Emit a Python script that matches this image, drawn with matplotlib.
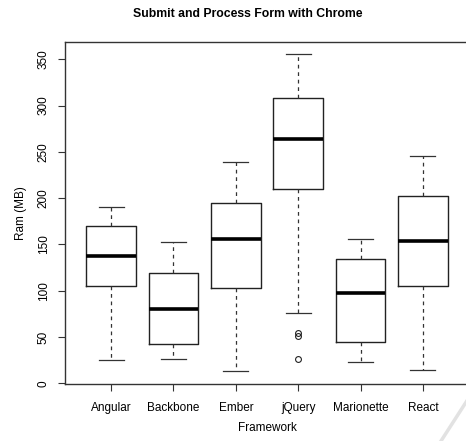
import matplotlib
matplotlib.use("Agg")
import matplotlib.pyplot as plt
from matplotlib.lines import Line2D

plt.rcParams.update({
    "font.family": ["Liberation Sans", "DejaVu Sans"],
    "font.size": 8.5,
})

# values (Ram in MB)
frameworks = ['Angular', 'Backbone', 'Ember', 'jQuery', 'Marionette', 'React']
whisker_low = [25.2, 25.9, 12.9, 75.5, 23.0, 14.4]
q1 = [105.4, 42.4, 102.5, 210.4, 44.2, 104.7]
median = [137.8, 80.6, 155.8, 263.7, 97.1, 153.6]
q3 = [169.8, 118.7, 194.6, 308.3, 133.8, 202.5]
whisker_high = [190.6, 152.9, 239.2, 355.4, 155.4, 245.3]
outliers = [[], [], [], [54.7, 51.1, 26.6], [], []]
yticks = [0, 50, 100, 150, 200, 250, 300, 350]

stats = []
for i, name in enumerate(frameworks):
    stats.append({'label': name, 'whislo': whisker_low[i], 'q1': q1[i], 'med': median[i],
                  'q3': q3[i], 'whishi': whisker_high[i], 'fliers': outliers[i]})

fig = plt.figure(figsize=(4.66, 4.41), dpi=100)
ax = fig.add_axes([65 / 466, 1 - 384 / 441, 404 / 466, (384 - 41.7) / 441])

ax.bxp(stats, positions=range(1, 7), widths=0.8, showfliers=True,
       boxprops=dict(color='#222222', linewidth=1.0),
       medianprops=dict(color='black', linewidth=2.6, solid_capstyle='butt'),
       whiskerprops=dict(color='#333333', linewidth=0.9, linestyle=(0, (3, 3))),
       capprops=dict(color='#333333', linewidth=0.9),
       capwidths=0.4,
       flierprops=dict(marker='o', markerfacecolor='none', markeredgecolor='#222222',
                       markersize=4.2, markeredgewidth=0.8))

ax.set_xlim(0.26, 6.74)
ax.set_ylim(-0.8, 369)
ax.set_yticks(yticks)
ax.set_yticklabels([str(t) for t in yticks], rotation=90, va='center')
ax.set_xticks(range(1, 7))
ax.set_xticklabels(frameworks)
ax.tick_params(length=5, width=0.8, color='#333333', labelsize=8.5)
ax.tick_params(axis='x', pad=8)
ax.tick_params(axis='y', pad=6)
for s in ax.spines.values():
    s.set_linewidth(1.0)
    s.set_color('#333333')

ax.set_xlabel('Framework', fontsize=8.5, labelpad=6)
ax.set_ylabel('Ram (MB)', fontsize=8.5, labelpad=8)
fig.text(248 / 466, 1 - 14 / 441, 'Submit and Process Form with Chrome',
         ha='center', va='center', fontsize=8.8, fontweight='bold')

# faint page-curl shadow in the lower right corner
fig.add_artist(Line2D([441 / 466, 470 / 466], [0, 45 / 441], color='#e2e2e2',
                      linewidth=2.5, transform=fig.transFigure))

fig.savefig('out.png', dpi=100)
